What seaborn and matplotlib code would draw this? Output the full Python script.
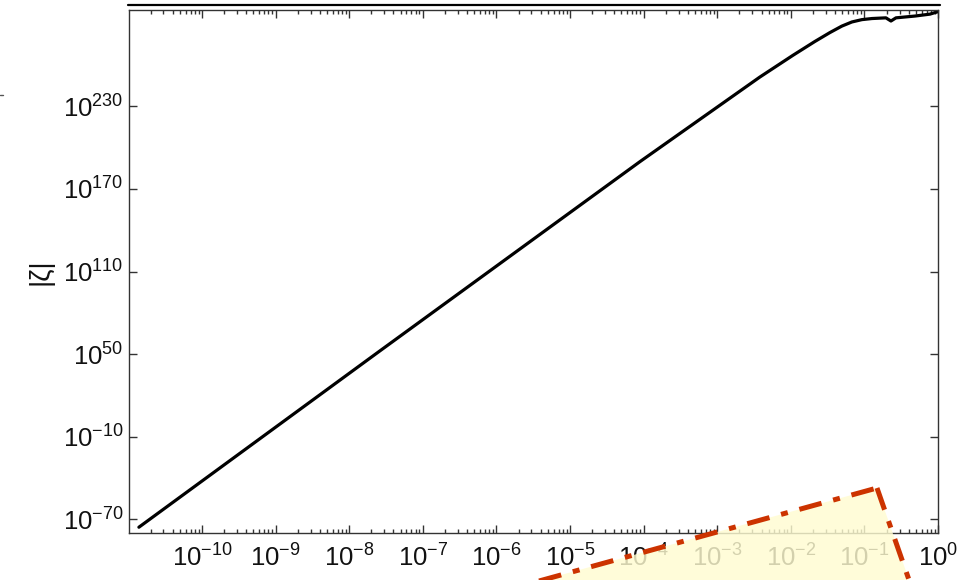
import numpy as np
import pandas as pd
import seaborn as sns
import matplotlib
matplotlib.use("Agg")
import matplotlib.pyplot as plt
from matplotlib.lines import Line2D
from matplotlib.patches import Polygon
from matplotlib.ticker import FixedLocator, FuncFormatter, LogLocator, NullLocator

# wavenumber samples and the curvature perturbation amplitude |zeta|
k = [1.39e-11, 2.56e-8, 8.83e-5, 3.78e-3, 1.064e-2, 2.12e-2,
     3.40e-2, 4.94e-2, 6.76e-2, 9.24e-2, 0.1265, 0.196, 0.2296, 0.2685,
     0.486, 0.778, 1.0]
zeta = [1.58e-76, 9.1e51, 4.37e189, 1.6e251, 1.0e267, 1.26e277,
        4.0e283, 2.0e288, 2.0e291, 1.0e293, 6.3e293, 2.0e294, 1.0e292,
        2.0e294, 4.0e295, 1.0e297, 6.3e298]

x_ticks = [1e-10, 1e-9, 1e-8, 1e-7, 1e-6, 1e-5, 1e-4, 1e-3, 1e-2, 1e-1, 1e0]
y_tick_exps = [-70, -10, 50, 110, 170, 230]
y_label = "|ζ|"

sns.set_style("ticks")
plt.rcParams["font.family"] = ["Liberation Sans", "DejaVu Sans"]
plt.rcParams["mathtext.fontset"] = "custom"
plt.rcParams["mathtext.rm"] = "Liberation Sans"
plt.rcParams["mathtext.it"] = "Liberation Sans:italic"
plt.rcParams["mathtext.bf"] = "Liberation Sans:bold"

W, H = 965, 580
fig = plt.figure(figsize=(W / 100, H / 100), dpi=100)
ax = fig.add_axes([129 / W, 1 - 533 / H, (938 - 129) / W, (533 - 10) / H])

df = pd.DataFrame({"k": k, "zeta": zeta})
sns.lineplot(data=df, x="k", y="zeta", ax=ax, color="black", linewidth=2.3,
             sort=False, estimator=None)

ax.set_xscale("log")
ax.set_yscale("log")
ax.set_xlim(1.02e-11, 1.0)
ax.set_ylim(1e-80, 1e300)
ax.set_xlabel("")
ax.set_ylabel("")

def pow_label(v, pos=None):
    e = int(round(np.log10(v)))
    return r"$\mathdefault{10^{%d}}$" % e

ax.xaxis.set_major_locator(FixedLocator(x_ticks))
ax.xaxis.set_minor_locator(LogLocator(base=10, subs=np.arange(2, 10), numticks=50))
ax.xaxis.set_major_formatter(FuncFormatter(pow_label))
ax.yaxis.set_major_locator(FixedLocator([10.0 ** e for e in y_tick_exps]))
ax.yaxis.set_minor_locator(NullLocator())
ax.yaxis.set_major_formatter(FuncFormatter(pow_label))

for s in ax.spines.values():
    s.set_visible(True)
    s.set_color("#333333")
    s.set_linewidth(1.0)

ax.tick_params(which="both", direction="in", top=True, right=True,
               color="#333333", width=1.0)
ax.tick_params(which="major", length=6, labelsize=18.5, labelcolor="#111111")
ax.tick_params(which="minor", length=3)
ax.tick_params(axis="x", which="major", pad=8)
ax.tick_params(axis="y", which="major", pad=4)

fig.text(40 / W, 1 - 272 / H, y_label, rotation=90, fontsize=20,
         ha="center", va="center", color="#111111")

# rule along the top edge and a stray mark at the left border
fig.add_artist(Line2D([128 / W, 940 / W], [1 - 5 / H, 1 - 5 / H],
                      transform=fig.transFigure, color="black", linewidth=1.6))
fig.add_artist(Line2D([0 / W, 3 / W], [1 - 95 / H, 1 - 95 / H],
                      transform=fig.transFigure, color="#555555", linewidth=1.0))

# highlighted callout region in the lower right
corners = [(877, 488), (916, 600), (470, 600)]
pts = [(x / W, 1 - y / H) for x, y in corners]
fill = Polygon(pts, closed=True, transform=fig.transFigure,
               facecolor=(1.0, 0.99, 0.82), alpha=0.82, edgecolor="none",
               zorder=10)
fig.add_artist(fill)
edge = Polygon(pts, closed=True, transform=fig.transFigure,
               facecolor="none", edgecolor="#cc3300", linewidth=3.6,
               linestyle=(0, (4.6, 2.4, 1.4, 2.4)), zorder=11)
edge.set_capstyle("butt")
fig.add_artist(edge)

fig.savefig("out.png", dpi=100)
